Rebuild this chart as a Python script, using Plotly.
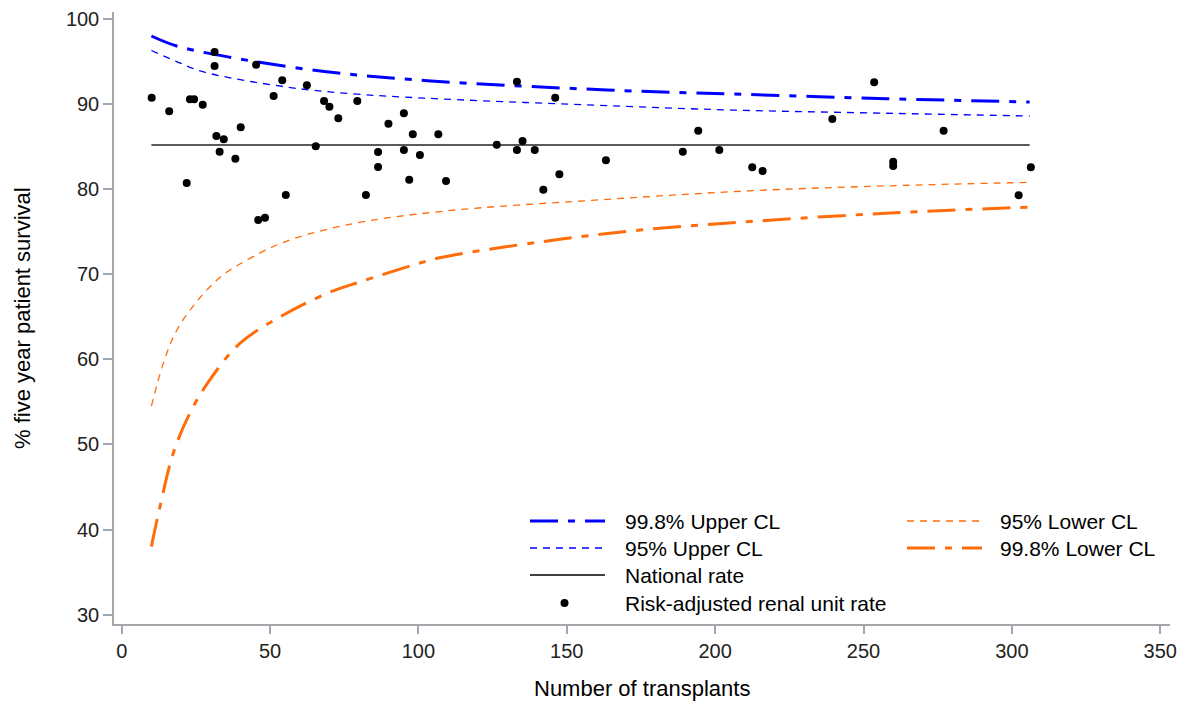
import plotly.graph_objects as go

# ---- data ----
unit_n = [10.1, 16.0, 21.9, 23.0, 24.4, 27.3, 31.3, 31.3, 31.9, 34.4, 33.0, 38.3, 40.1,
          45.3, 46.0, 48.3, 51.2, 54.1, 55.3, 62.4, 65.4, 68.2, 70.0, 73.0, 79.4, 82.3,
          86.4, 86.4, 89.9, 95.1, 95.1, 96.9, 98.1, 100.5, 106.7, 109.3, 126.4, 133.2,
          133.2, 135.1, 139.2, 142.1, 146.1, 147.5, 163.2, 189.1, 194.3, 201.4, 212.5,
          216.0, 239.5, 253.6, 260.0, 260.0, 277.0, 302.3, 306.4]
unit_rate = [90.75, 89.15, 80.73, 90.56, 90.56, 89.93, 96.12, 94.48, 86.25, 85.86, 84.41,
             83.58, 87.27, 94.63, 76.38, 76.65, 90.95, 92.8, 79.32, 92.2, 85.04, 90.36,
             89.7, 88.33, 90.36, 79.32, 84.37, 82.61, 87.7, 88.92, 84.6, 81.12, 86.45,
             84.02, 86.45, 80.96, 85.23, 92.63, 84.6, 85.66, 84.6, 79.94, 90.75, 81.75,
             83.4, 84.41, 86.88, 84.6, 82.57, 82.14, 88.25, 92.56, 83.23, 82.73, 86.88,
             79.28, 82.57]

national_n = [10, 306]
national_rate = [85.2, 85.2]

u998_n = [10, 18.5, 36.5, 69, 103, 163.5, 205, 257.8, 306]
u998_v = [98.0, 96.83, 95.5, 93.8, 92.75, 91.66, 91.19, 90.63, 90.25]

u95_n = [10, 18.5, 27.4, 55.6, 78, 102, 156.7, 206, 261, 306]
u95_v = [96.3, 95.0, 93.8, 92.0, 91.2, 90.7, 89.9, 89.3, 88.9, 88.6]

l95_n = [10, 14, 18.5, 25.3, 32, 36.5, 53.4, 75.8, 108, 163.5, 211, 259, 306]
l95_v = [54.5, 59.5, 63.4, 66.8, 69.3, 70.5, 73.6, 75.8, 77.4, 78.8, 79.8, 80.4, 80.8]

l998_n = [10, 12.9, 17.4, 23, 29.7, 39.9, 53.4, 70.2, 80.3, 98.3, 108, 141, 174.7,
          211.8, 259, 306]
l998_v = [38.0, 42.7, 49.0, 53.7, 57.6, 61.9, 65.0, 67.9, 69.1, 71.1, 72.0, 73.8, 75.2,
          76.2, 77.2, 77.9]

x_ticks = [0, 50, 100, 150, 200, 250, 300, 350]
y_ticks = [30, 40, 50, 60, 70, 80, 90, 100]

x_title = "Number of transplants"
y_title = "% five year patient survival"
series_names = ["99.8% Upper CL", "95% Upper CL", "National rate",
                "Risk-adjusted renal unit rate", "95% Lower CL", "99.8% Lower CL"]

BLUE = "#0000ff"
ORANGE = "#ff6c0a"
GREY = "#5a5a5a"
DASHDOT = "28px,10px,7px,10px"
SHORTDASH = "7px,6px"

styles = {
    "99.8% Upper CL": dict(color=BLUE, width=3, dash=DASHDOT),
    "95% Upper CL": dict(color=BLUE, width=1.3, dash=SHORTDASH),
    "95% Lower CL": dict(color=ORANGE, width=1.3, dash=SHORTDASH),
    "99.8% Lower CL": dict(color=ORANGE, width=3, dash=DASHDOT),
    "National rate": dict(color=GREY, width=2, dash="solid"),
}

fig = go.Figure()
for name, xs, ys in [("99.8% Upper CL", u998_n, u998_v),
                     ("95% Upper CL", u95_n, u95_v),
                     ("95% Lower CL", l95_n, l95_v),
                     ("99.8% Lower CL", l998_n, l998_v)]:
    fig.add_trace(go.Scatter(x=xs, y=ys, mode="lines", name=name, showlegend=False,
                             line=dict(shape="spline", **styles[name])))
fig.add_trace(go.Scatter(x=national_n, y=national_rate, mode="lines",
                         name="National rate", showlegend=False,
                         line=styles["National rate"]))
fig.add_trace(go.Scatter(x=unit_n, y=unit_rate, mode="markers",
                         name="Risk-adjusted renal unit rate", showlegend=False,
                         marker=dict(color="black", size=8)))

FONT = "Liberation Sans, Arial, sans-serif"
AXC = "#a3a7ab"

# ---- plot-area geometry (pixels) used to place the hand-built legend ----
L, R, T, B = 114, 19, 12, 77
W, H = 1189, 701
PW, PH = W - L - R, H - T - B


def px(xpix):
    return (xpix - L) / PW


def py(ypix):
    return (H - B - ypix) / PH


legend_rows = {
    "99.8% Upper CL": (0, 521), "95% Upper CL": (0, 548), "National rate": (0, 575),
    "Risk-adjusted renal unit rate": (0, 603),
    "95% Lower CL": (1, 521), "99.8% Lower CL": (1, 548),
}
col_sample = [(530, 605), (907, 982)]
col_text = [623, 998]

shapes = []
annotations = []
for name in series_names:
    col, ypix = legend_rows[name]
    x0, x1 = col_sample[col]
    if name == "Risk-adjusted renal unit rate":
        shapes.append(dict(type="circle", xref="paper", yref="paper",
                           xsizemode="pixel", ysizemode="pixel",
                           xanchor=px((x0 + x1) / 2 - 3), yanchor=py(ypix),
                           x0=-4, x1=4, y0=-4, y1=4,
                           fillcolor="black", line=dict(color="black", width=0)))
    else:
        sty = dict(styles[name])
        if name == "National rate":
            sty = dict(color="#000", width=1.5, dash="solid")
        shapes.append(dict(type="line", xref="paper", yref="paper",
                           x0=px(x0), x1=px(x1), y0=py(ypix), y1=py(ypix),
                           line=sty))
    annotations.append(dict(text=name, xref="paper", yref="paper", x=px(col_text[col]),
                            y=py(ypix), xanchor="left", yanchor="middle", showarrow=False,
                            font=dict(size=21, color="#000", family=FONT)))

# axis titles
annotations.append(dict(text=x_title, xref="paper", yref="paper", x=0.5, y=0,
                        xanchor="center", yanchor="middle", yshift=-64, showarrow=False,
                        font=dict(size=22, color="#000", family=FONT)))
annotations.append(dict(text=y_title, xref="paper", yref="paper", x=0, y=0.5,
                        xanchor="center", yanchor="middle", xshift=-92, textangle=-90,
                        showarrow=False, font=dict(size=22, color="#000", family=FONT)))

fig.update_layout(
    width=W, height=H,
    margin=dict(l=L, r=R, t=T, b=B, autoexpand=False),
    paper_bgcolor="white", plot_bgcolor="white",
    font=dict(family=FONT, color="#000"),
    showlegend=False,
    xaxis=dict(range=[-2.6, 353.3], tickvals=x_ticks, showgrid=False, zeroline=False,
               showline=True, linecolor=AXC, linewidth=1.5, ticks="outside", ticklen=8,
               tickcolor=AXC, tickwidth=1.5, tickfont=dict(size=20, color="#222"),
               automargin=False),
    yaxis=dict(range=[28.907, 100.82], tickvals=y_ticks, showgrid=False, zeroline=False,
               showline=True, linecolor=AXC, linewidth=1.5, ticks="outside", ticklen=9,
               tickcolor=AXC, tickwidth=1.5, tickfont=dict(size=20, color="#222"),
               automargin=False),
    shapes=shapes,
    annotations=annotations,
)

fig.write_html("out.html")
